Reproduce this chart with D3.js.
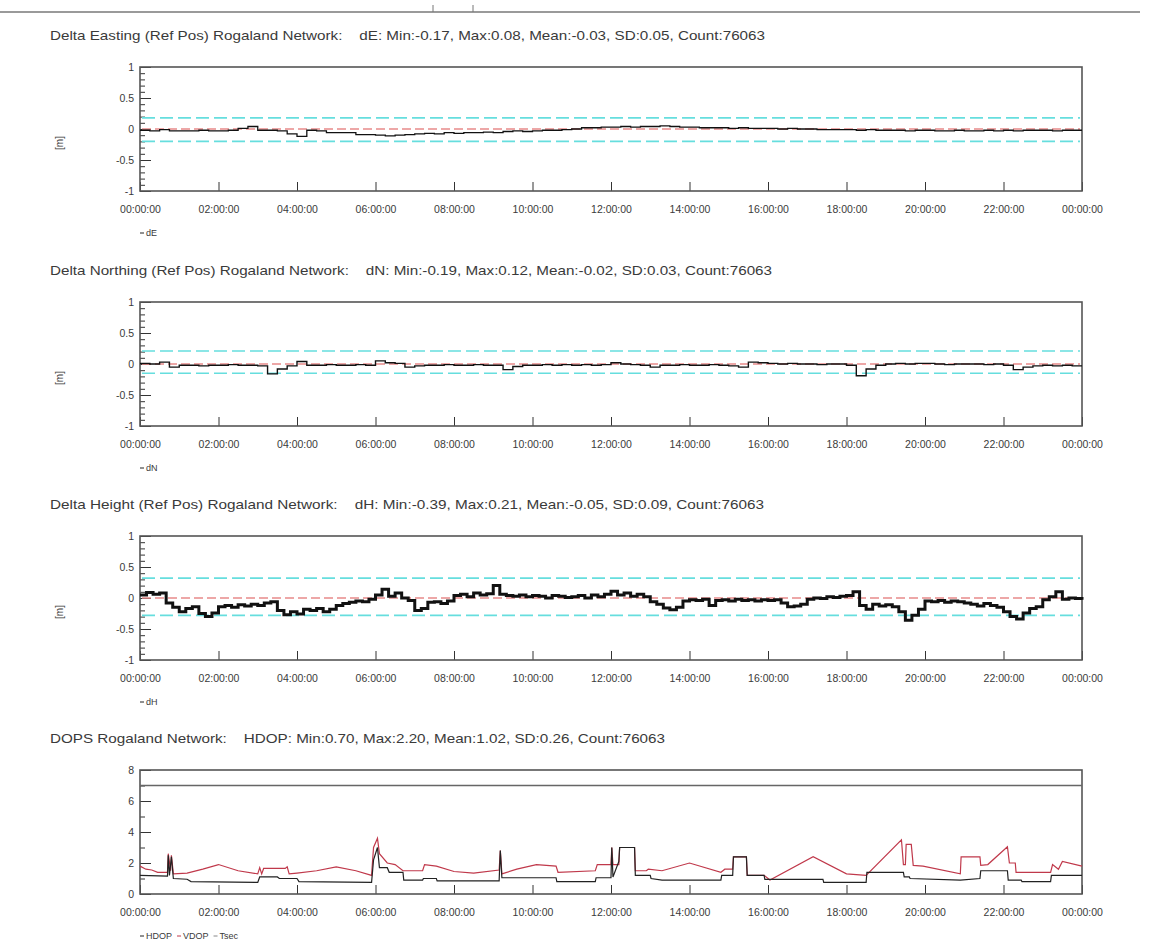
<!DOCTYPE html>
<html>
<head>
<meta charset="utf-8">
<script src="https://cdn.jsdelivr.net/npm/d3@7"></script>
<style>
  body { margin: 0; background: #fff; }
  text { font-family: "Liberation Sans", Arial, sans-serif; fill: #3a3a3a; }
  .title { white-space: pre; }
</style>
</head>
<body>
<div id="chart"></div>
<script>
(function() {
  var width = 1156, height = 942,
    plotLeft = 140, plotRight = 1082, plotHeight = 124,
    panelTops = [67, 302, 536, 770];

  // titles + stats text
  var titles = [
    "Delta Easting (Ref Pos) Rogaland Network:    dE: Min:-0.17, Max:0.08, Mean:-0.03, SD:0.05, Count:76063",
    "Delta Northing (Ref Pos) Rogaland Network:    dN: Min:-0.19, Max:0.12, Mean:-0.02, SD:0.03, Count:76063",
    "Delta Height (Ref Pos) Rogaland Network:    dH: Min:-0.39, Max:0.21, Mean:-0.05, SD:0.09, Count:76063",
    "DOPS Rogaland Network:    HDOP: Min:0.70, Max:2.20, Mean:1.02, SD:0.26, Count:76063"
  ]
  var titleWidths = [715, 722, 714, 615]

  var timeTicks = [0, 2, 4, 6, 8, 10, 12, 14, 16, 18, 20, 22, 24]
  var timeLabels = ["00:00:00", "02:00:00", "04:00:00", "06:00:00", "08:00:00", "10:00:00", "12:00:00",
    "14:00:00", "16:00:00", "18:00:00", "20:00:00", "22:00:00", "00:00:00"]

  var deltaTicks = [-1, -0.5, 0, 0.5, 1]
  var deltaTickLabels = ["-1", "-0.5", "0", "0.5", "1"]
  var dopTicks = [0, 2, 4, 6, 8]

  // cyan limit lines per delta panel
  var upperLimits = [0.18, 0.21, 0.32]
  var lowerLimits = [-0.2, -0.15, -0.28]

  // dE, 15 minute steps from 00:00
  var dE = [
    -0.02, -0.03, -0.01, -0.03, -0.03, -0.03, -0.02, -0.03,
    -0.03, -0.02, 0.01, 0.04, -0.02, -0.02, -0.03, -0.08,
    -0.12, -0.02, -0.03, -0.06, -0.06, -0.06, -0.09, -0.09,
    -0.1, -0.11, -0.1, -0.09, -0.08, -0.07, -0.08, -0.06,
    -0.07, -0.06, -0.06, -0.05, -0.06, -0.04, -0.03, -0.04,
    -0.03, -0.02, -0.02, -0.01, 0.0, 0.02, 0.02, 0.03,
    0.03, 0.04, 0.03, 0.04, 0.04, 0.05, 0.04, 0.03,
    0.03, 0.02, 0.02, 0.02, 0.01, 0.02, 0.01, 0.01,
    0.01, 0.0, 0.01, 0.0, 0.0, -0.01, -0.01, -0.01,
    -0.01, -0.02, -0.01, -0.02, -0.02, -0.02, -0.03, -0.02,
    -0.02, -0.03, -0.03, -0.02, -0.03, -0.03, -0.02, -0.03,
    -0.02, -0.03, -0.02, -0.02, -0.02, -0.03, -0.02, -0.02, -0.02
  ]

  // dN, 15 minute steps
  var dN = [
    0.01, 0.0, 0.03, -0.05, -0.02, -0.02, -0.03, -0.02,
    -0.02, -0.01, -0.02, -0.02, -0.03, -0.16, -0.08, -0.03,
    0.04, -0.02, -0.02, -0.01, -0.02, -0.02, -0.01, -0.02,
    0.05, 0.02, 0.01, -0.05, -0.03, -0.02, -0.02, -0.01,
    -0.02, -0.02, -0.01, -0.02, -0.02, -0.09, -0.04, -0.02,
    -0.02, -0.01, -0.02, -0.01, -0.02, -0.01, -0.02, -0.01,
    0.02, 0.0, -0.01, -0.02, -0.05, -0.02, -0.02, -0.01,
    -0.02, -0.02, -0.01, -0.02, -0.03, -0.05, 0.03, 0.02,
    0.01, 0.0, 0.01, 0.0, 0.0, -0.01, 0.0, 0.0,
    -0.02, -0.19, -0.08, -0.02, 0.0, 0.01, 0.0, 0.01,
    0.01, 0.0, -0.01, 0.0, 0.0, 0.0, -0.01, 0.0,
    -0.02, -0.09, -0.05, -0.03, -0.02, -0.03, -0.02, -0.03, -0.03
  ]

  // dH, 10 minute steps
  var dH = [
    0.05, 0.09, 0.06, 0.08, -0.08, -0.15,
    -0.22, -0.17, -0.14, -0.25, -0.3, -0.24,
    -0.14, -0.12, -0.15, -0.11, -0.13, -0.1,
    -0.12, -0.08, -0.06, -0.2, -0.27, -0.22,
    -0.26, -0.18, -0.2, -0.17, -0.22, -0.18,
    -0.12, -0.09, -0.07, -0.05, -0.06, -0.02,
    0.05, 0.14, 0.03, 0.08, 0.0, -0.04,
    -0.2, -0.17, -0.07, -0.06, -0.09, -0.05,
    0.04, 0.06, 0.02, 0.08, 0.05, 0.07,
    0.2, 0.06, 0.04, 0.03, 0.05, 0.02,
    0.04, 0.03, 0.0, 0.04, 0.03, 0.01,
    0.02, 0.04, 0.0, 0.05, 0.02, 0.06,
    0.11, 0.05, 0.08, 0.03, 0.06, 0.02,
    -0.06, -0.1, -0.16, -0.19, -0.15, -0.05,
    -0.03, -0.04, -0.02, -0.12, -0.04, -0.03,
    -0.05, -0.02, -0.04, -0.03, -0.05, -0.03,
    -0.04, -0.03, -0.08, -0.14, -0.13, -0.1,
    -0.02, 0.0, -0.01, 0.02, 0.01, 0.03,
    0.04, 0.1, -0.12, -0.18, -0.1, -0.13,
    -0.11, -0.14, -0.22, -0.36, -0.28, -0.18,
    -0.05, -0.06, -0.04, -0.07, -0.05, -0.06,
    -0.08, -0.1, -0.13, -0.09, -0.12, -0.15,
    -0.22, -0.3, -0.34, -0.24, -0.17, -0.14,
    -0.03, 0.02, 0.1, -0.02, 0.0, -0.01,
    -0.03
  ]

  // DOPs as [hour, value]
  var vdop = [
    [0, 1.8], [0.15, 1.6], [0.3, 1.55], [0.45, 1.4], [0.7, 1.4], [0.72, 2.6], [0.78, 1.5], [0.8, 2.5], [0.85, 1.3],
    [1.2, 1.35], [1.6, 1.6], [2.0, 1.9], [2.5, 1.5], [3.0, 1.3], [3.05, 1.7], [3.1, 1.3], [3.15, 1.65], [3.7, 1.65],
    [3.75, 1.75], [3.8, 1.3], [4.0, 1.35], [4.5, 1.5], [5.0, 1.75], [5.5, 1.5], [5.9, 1.2], [5.95, 3.0], [6.05, 3.6],
    [6.1, 2.6], [6.3, 2.0], [6.5, 1.9], [6.7, 1.5], [7.2, 1.5], [7.25, 1.9], [7.55, 1.8], [8.0, 1.45], [8.5, 1.35],
    [9.15, 1.55], [9.18, 2.8], [9.22, 1.3], [9.6, 1.6], [10.1, 1.9], [10.6, 1.8], [10.65, 1.4], [11.6, 1.5],
    [11.65, 1.9], [12.0, 1.9], [12.02, 3.0], [12.05, 1.9], [12.2, 1.9], [12.22, 3.0], [12.6, 3.0], [12.62, 1.5],
    [12.9, 1.5], [12.95, 1.6], [13.3, 1.5], [14.0, 2.0], [14.8, 1.4], [14.9, 1.6], [15.1, 1.6], [15.12, 2.4],
    [15.45, 2.4], [15.47, 1.2], [15.9, 1.2], [16.05, 0.9], [17.15, 2.4], [18.0, 1.3], [18.5, 1.2], [19.4, 3.5],
    [19.45, 1.9], [19.5, 1.9], [19.52, 3.2], [19.65, 3.2], [19.7, 1.85], [19.95, 1.8], [20.9, 1.3], [20.92, 2.4],
    [21.4, 2.4], [21.42, 1.85], [21.6, 1.9], [22.1, 3.05], [22.15, 2.0], [22.3, 2.0], [22.32, 1.4], [23.2, 1.4],
    [23.25, 1.9], [23.4, 1.6], [23.5, 2.1], [24, 1.8]
  ]
  var hdop = [
    [0, 1.2], [0.7, 1.15], [0.72, 2.5], [0.75, 1.2], [0.8, 2.4], [0.85, 1.0], [1.2, 0.95], [1.3, 0.8], [3.0, 0.75],
    [3.05, 1.1], [3.5, 1.1], [3.55, 1.0], [4.0, 1.0], [4.05, 0.8], [5.9, 0.75], [5.95, 2.2], [6.05, 3.0], [6.1, 1.7],
    [6.3, 1.7], [6.35, 1.4], [6.7, 1.4], [6.72, 0.9], [7.2, 0.9], [7.22, 1.0], [7.55, 1.0], [7.57, 0.85], [9.15, 0.85],
    [9.18, 2.8], [9.22, 1.05], [10.6, 1.05], [10.62, 0.8], [11.6, 0.8], [11.62, 1.05], [12.0, 1.05], [12.02, 3.0],
    [12.05, 1.1], [12.2, 2.1], [12.22, 3.0], [12.6, 3.0], [12.62, 1.2], [13.0, 1.2], [13.02, 1.0], [13.3, 0.9],
    [14.8, 0.9], [14.82, 1.2], [15.1, 1.2], [15.12, 2.4], [15.45, 2.4], [15.47, 1.2], [15.9, 1.2], [15.92, 0.95],
    [17.4, 0.95], [17.42, 0.75], [18.5, 0.75], [18.52, 1.4], [19.45, 1.4], [19.47, 1.1], [19.6, 1.1], [19.62, 1.0],
    [20.9, 0.9], [21.4, 1.0], [21.42, 1.5], [22.1, 1.5], [22.12, 0.9], [22.45, 0.9], [22.47, 0.8], [23.2, 0.8],
    [23.22, 1.2], [24, 1.2]
  ]
  var dopLimit = 7

  var legendNames = [["dE"], ["dN"], ["dH"], ["HDOP", "VDOP", "Tsec"]]
  var legendColors = [["#222"], ["#222"], ["#222"], ["#222", "#c0394b", "#888"]]

  var svg = d3.select("#chart")
    .append("svg")
    .attr("width", width)
    .attr("height", height)

  // leftover of the previous page at the very top
  svg.append("line")
    .attr("x1", 0).attr("x2", 1140).attr("y1", 12).attr("y2", 12)
    .attr("stroke", "#9a9a9a").attr("stroke-width", 2)
  svg.selectAll(".top-tick")
    .data([433, 473])
    .enter().append("line")
    .attr("x1", function(d) { return d }).attr("x2", function(d) { return d })
    .attr("y1", 5).attr("y2", 12)
    .attr("stroke", "#777")

  var xPositionScale = d3.scaleLinear().domain([0, 24]).range([plotLeft, plotRight])

  function drawPanel(i, yScale, majors, majorLabels, minors) {
    var top = panelTops[i], bottom = top + plotHeight
    var g = svg.append("g")

    g.append("text")
      .attr("class", "title")
      .attr("x", 50)
      .attr("y", top - 27)
      .attr("font-size", 13)
      .attr("textLength", titleWidths[i])
      .attr("lengthAdjust", "spacingAndGlyphs")
      .text(titles[i])

    var minorAxis = d3.axisLeft(yScale).tickValues(minors).tickSize(-5).tickFormat("")
    g.append("g")
      .attr("transform", "translate(" + plotLeft + ",0)")
      .call(minorAxis)

    var yAxis = d3.axisLeft(yScale)
      .tickValues(majors)
      .tickSize(-11)
      .tickPadding(6)
      .tickFormat(function(d, k) { return majorLabels[k] })
    g.append("g")
      .attr("class", "axis y-axis")
      .attr("transform", "translate(" + plotLeft + ",0)")
      .call(yAxis)

    var xAxis = d3.axisBottom(xPositionScale)
      .tickValues(timeTicks)
      .tickSize(-9)
      .tickPadding(15)
      .tickFormat(function(d, k) { return timeLabels[k] })
    g.append("g")
      .attr("class", "axis x-axis")
      .attr("transform", "translate(0," + bottom + ")")
      .call(xAxis)

    g.selectAll(".domain").remove()
    g.selectAll(".tick line").attr("stroke", "#333")
    g.selectAll(".tick text")
      .attr("font-family", "'Liberation Sans', Arial, sans-serif")
      .attr("font-size", 10.5)
      .attr("fill", "#444")

    g.append("rect")
      .attr("x", plotLeft)
      .attr("y", top)
      .attr("width", plotRight - plotLeft)
      .attr("height", plotHeight)
      .attr("fill", "none")
      .attr("stroke", "#555")
      .attr("stroke-width", 1.6)

    // legend
    var lx = plotLeft
    legendNames[i].forEach(function(name, k) {
      g.append("line")
        .attr("x1", lx).attr("x2", lx + 4)
        .attr("y1", bottom + 42).attr("y2", bottom + 42)
        .attr("stroke", legendColors[i][k])
      var t = g.append("text")
        .attr("x", lx + 6)
        .attr("y", bottom + 45)
        .attr("font-size", 9)
        .attr("fill", legendColors[i][k])
        .text(name)
      lx += 6 + t.node().getComputedTextLength() + 5
    })

    return g
  }

  var deltaSeries = [dE, dN, dH]
  var deltaSteps = [0.25, 0.25, 1 / 6]
  var deltaWidths = [1.3, 1.4, 3]
  var minorDelta = d3.range(-10, 11).map(function(d) { return d / 10 })

  deltaSeries.forEach(function(series, i) {
    var top = panelTops[i]
    var yPositionScale = d3.scaleLinear().domain([-1, 1]).range([top + plotHeight, top])
    var g = drawPanel(i, yPositionScale, deltaTicks, deltaTickLabels, minorDelta)

    g.append("text")
      .attr("transform", "translate(63," + (top + 76) + ") rotate(-90)")
      .attr("text-anchor", "middle")
      .attr("font-size", 10)
      .text("[m]")

    g.selectAll(".limit")
      .data([upperLimits[i], lowerLimits[i]])
      .enter().append("line")
      .attr("x1", plotLeft + 2).attr("x2", plotRight - 2)
      .attr("y1", function(d) { return yPositionScale(d) })
      .attr("y2", function(d) { return yPositionScale(d) })
      .attr("stroke", "#66dede")
      .attr("stroke-width", 1.6)
      .attr("stroke-dasharray", "13,5")

    g.append("line")
      .attr("x1", plotLeft + 2).attr("x2", plotRight - 2)
      .attr("y1", yPositionScale(0)).attr("y2", yPositionScale(0))
      .attr("stroke", "#e88a8a")
      .attr("stroke-width", 1.4)
      .attr("stroke-dasharray", "9,4")

    var line = d3.line()
      .x(function(d, k) { return xPositionScale(k * deltaSteps[i]) })
      .y(function(d) { return yPositionScale(d) })
      .curve(d3.curveStepAfter)

    g.append("path")
      .datum(series)
      .attr("d", line)
      .attr("fill", "none")
      .attr("stroke", "#111")
      .attr("stroke-width", deltaWidths[i])
  })

  // DOP panel
  var dTop = panelTops[3]
  var dopScale = d3.scaleLinear().domain([0, 8]).range([dTop + plotHeight, dTop])
  var dg = drawPanel(3, dopScale, dopTicks, dopTicks.map(String), d3.range(0, 9))

  dg.append("line")
    .attr("x1", plotLeft).attr("x2", plotRight)
    .attr("y1", dopScale(dopLimit)).attr("y2", dopScale(dopLimit))
    .attr("stroke", "#666")
    .attr("stroke-width", 1.5)

  var dopLine = d3.line()
    .x(function(d) { return xPositionScale(d[0]) })
    .y(function(d) { return dopScale(d[1]) })

  dg.append("path")
    .datum(vdop)
    .attr("d", dopLine)
    .attr("fill", "none")
    .attr("stroke", "#c0394b")
    .attr("stroke-width", 1.2)

  dg.append("path")
    .datum(hdop)
    .attr("d", dopLine)
    .attr("fill", "none")
    .attr("stroke", "#222")
    .attr("stroke-width", 1.2)
})();
</script>
</body>
</html>
